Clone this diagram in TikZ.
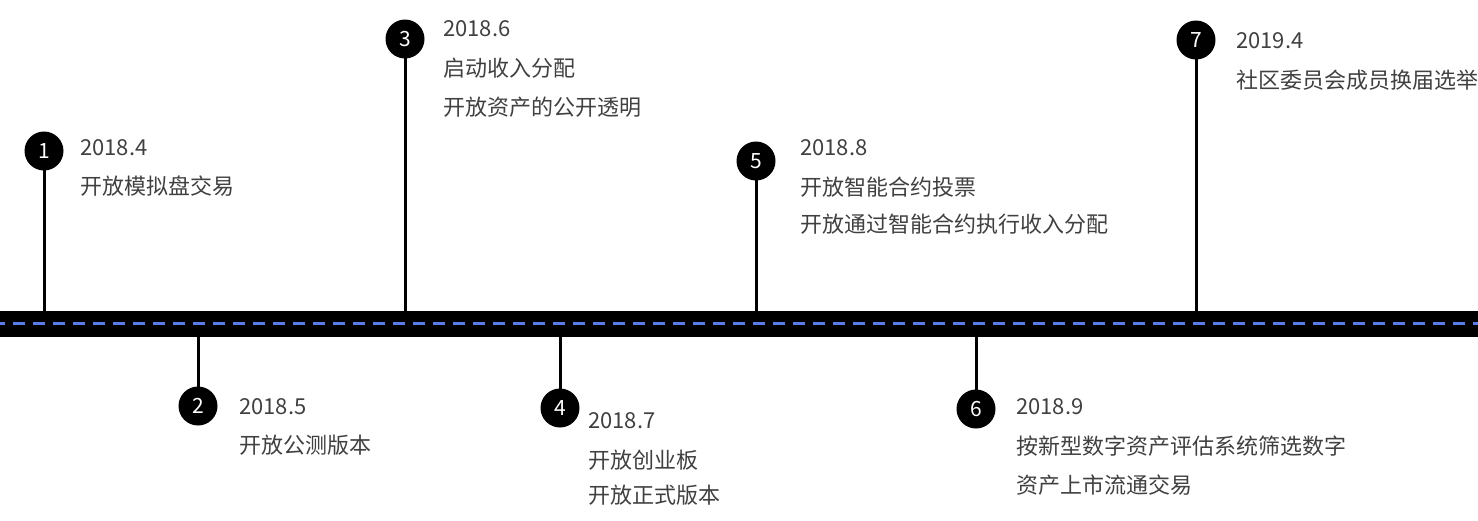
\documentclass[tikz,border=0pt]{standalone}
\usepackage{fontspec}
\setmainfont{Noto Sans CJK SC}
\begin{document}
\begin{tikzpicture}[x=1pt,y=-1pt,
  txt/.style={anchor=base west,inner sep=0pt,text=txtgray,font=\fontsize{22}{26}\selectfont},
  dot/.style={circle,fill=black,draw=none,minimum size=39pt,inner sep=0pt,text=white,font=\fontsize{21}{24}\selectfont},
  stem/.style={line width=3pt,draw=black}]
\definecolor{txtgray}{RGB}{64,64,64}
\definecolor{dashblue}{RGB}{88,125,235}
\useasboundingbox (0,0) rectangle (1478,520);
% band
\fill[black] (0,311) rectangle (1478,336.5);
\coordinate (bl) at (0,323.5);
\coordinate (br) at (1478,323.5);
\draw[dashblue,line width=3pt,dash pattern=on 12pt off 8pt,dash phase=7pt] (bl) -- (br);
% band anchor coordinates
\coordinate (t1) at (44,312);
\coordinate (t2) at (198,336);
\coordinate (t3) at (405,312);
\coordinate (t4) at (560,336);
\coordinate (t5) at (756,312);
\coordinate (t6) at (976,336);
\coordinate (t7) at (1196,312);
% circle positions
\coordinate (p1) at (44,151);
\coordinate (p2) at (198,406);
\coordinate (p3) at (405,39);
\coordinate (p4) at (560,408);
\coordinate (p5) at (756,161);
\coordinate (p6) at (976,409);
\coordinate (p7) at (1196,40);
% stems
\draw[stem] (p1) -- (t1);
\draw[stem] (p2) -- (t2);
\draw[stem] (p3) -- (t3);
\draw[stem] (p4) -- (t4);
\draw[stem] (p5) -- (t5);
\draw[stem] (p6) -- (t6);
\draw[stem] (p7) -- (t7);
% circles
\node[dot] (c1) at (p1) {1};
\node[dot] (c2) at (p2) {2};
\node[dot] (c3) at (p3) {3};
\node[dot] (c4) at (p4) {4};
\node[dot] (c5) at (p5) {5};
\node[dot] (c6) at (p6) {6};
\node[dot] (c7) at (p7) {7};
% texts
\node[txt] (d1) at (80,155) {2018.4};
\node[txt] (l1a) at (80,194) {开放模拟盘交易};
\node[txt] (d2) at (239,414) {2018.5};
\node[txt] (l2a) at (239,453) {开放公测版本};
\node[txt] (d3) at (443,36) {2018.6};
\node[txt] (l3a) at (443,76) {启动收入分配};
\node[txt] (l3b) at (443,115) {开放资产的公开透明};
\node[txt] (d4) at (588,428) {2018.7};
\node[txt] (l4a) at (588,468) {开放创业板};
\node[txt] (l4b) at (588,503) {开放正式版本};
\node[txt] (d5) at (800,155) {2018.8};
\node[txt] (l5a) at (800,195) {开放智能合约投票};
\node[txt] (l5b) at (800,232) {开放通过智能合约执行收入分配};
\node[txt] (d6) at (1016,414) {2018.9};
\node[txt] (l6a) at (1016,454) {按新型数字资产评估系统筛选数字};
\node[txt] (l6b) at (1016,493) {资产上市流通交易};
\node[txt] (d7) at (1236,48) {2019.4};
\node[txt] (l7a) at (1236,88) {社区委员会成员换届选举};
\end{tikzpicture}
\end{document}
